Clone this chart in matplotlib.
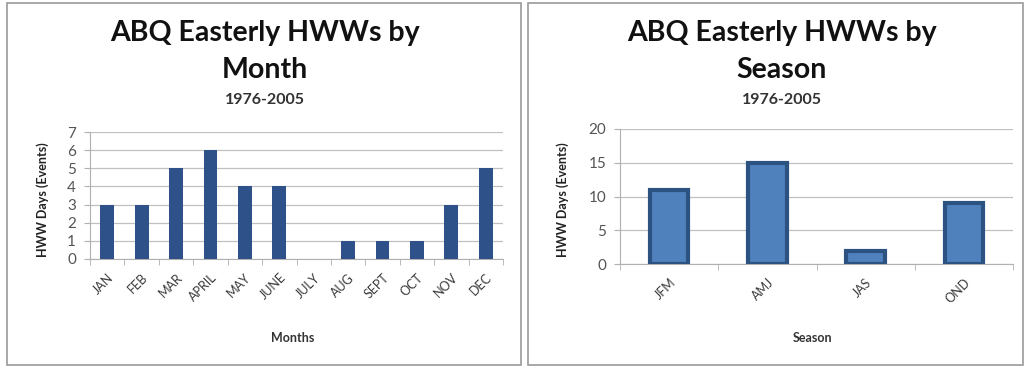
import matplotlib
matplotlib.use("Agg")
import matplotlib.pyplot as plt
from matplotlib.patches import Rectangle
import numpy as np

plt.rcParams["font.family"] = ["Lato", "DejaVu Sans"]

# data
months = ["JAN", "FEB", "MAR", "APRIL", "MAY", "JUNE", "JULY", "AUG", "SEPT", "OCT", "NOV", "DEC"]
month_counts = [3, 3, 5, 6, 4, 4, 0, 1, 1, 1, 3, 5]
seasons = ["JFM", "AMJ", "JAS", "OND"]
season_counts = [11, 15, 2, 9]

W, H = 1026, 368
fig = plt.figure(figsize=(W / 100, H / 100), dpi=100)
fig.patch.set_facecolor("white")


def px(x, y):
    return x / W, 1 - y / H


# panel frames
for x0, x1 in [(7, 521), (528, 1023)]:
    fig.add_artist(Rectangle(px(x0, 365), (x1 - x0) / W, (365 - 3) / H,
                             transform=fig.transFigure, fill=False,
                             edgecolor="#9a9a9a", linewidth=1.2))


def style_axes(ax, n, ymax, ystep):
    ax.set_xlim(-0.5, n - 0.5)
    ax.set_ylim(0, ymax)
    ax.set_yticks(np.arange(0, ymax + 0.1, ystep))
    ax.set_xticks(np.arange(-0.5, n, 1), minor=True)
    ax.grid(axis="y", color="#c0c0c0", linewidth=0.9, zorder=0)
    ax.set_axisbelow(True)
    for s in ["top", "right"]:
        ax.spines[s].set_visible(False)
    for s in ["left", "bottom"]:
        ax.spines[s].set_color("#b0b0b0")
    ax.tick_params(axis="y", colors="#b0b0b0", labelcolor="#555555",
                   labelsize=11, length=4, pad=6)
    ax.tick_params(axis="x", which="major", length=0, pad=9,
                   labelsize=9, labelcolor="#3a3a3a")
    ax.tick_params(axis="x", which="minor", length=4, color="#b0b0b0")
    for lbl in ax.get_xticklabels():
        lbl.set_rotation(45)
        lbl.set_ha("right")
        lbl.set_rotation_mode("anchor")


# left: by month
ax1 = fig.add_axes([90 / W, 1 - 259 / H, (503 - 90) / W, (259 - 132) / H])
ax1.bar(np.arange(len(months)), month_counts, width=0.4, color="#2f5189",
        edgecolor="none", zorder=3)
ax1.set_xticks(np.arange(len(months)))
ax1.set_xticklabels(months)
style_axes(ax1, len(months), 7, 1)

# right: by season
ax2 = fig.add_axes([620 / W, 1 - 264 / H, (1013 - 620) / W, (264 - 129) / H])
ax2.bar(np.arange(len(seasons)), season_counts, width=0.39, color="#4f81bd",
        edgecolor="#2c5282", linewidth=3, zorder=3)
ax2.set_xticks(np.arange(len(seasons)))
ax2.set_xticklabels(seasons)
style_axes(ax2, len(seasons), 20, 5)

# titles and axis labels
for cx, name, ylx, xl, xlx in [(265, "Month", 43, "Months", 293),
                               (782, "Season", 563, "Season", 813)]:
    fig.text(*px(cx, 33), "ABQ Easterly HWWs by", ha="center", va="center",
             fontsize=20.5, fontweight="bold", color="#111111")
    fig.text(*px(cx, 70), name, ha="center", va="center",
             fontsize=20.5, fontweight="bold", color="#111111")
    fig.text(*px(cx, 100), "1976-2005", ha="center", va="center",
             fontsize=11.5, fontweight="bold", color="#333333")
    fig.text(*px(ylx, 200), "HWW Days (Events)", ha="center", va="center",
             rotation=90, fontsize=9, fontweight="bold", color="#222222")
    fig.text(*px(xlx, 338), xl, ha="center", va="center",
             fontsize=9, fontweight="bold", color="#333333")

fig.savefig("out.png", dpi=100, facecolor="white")
